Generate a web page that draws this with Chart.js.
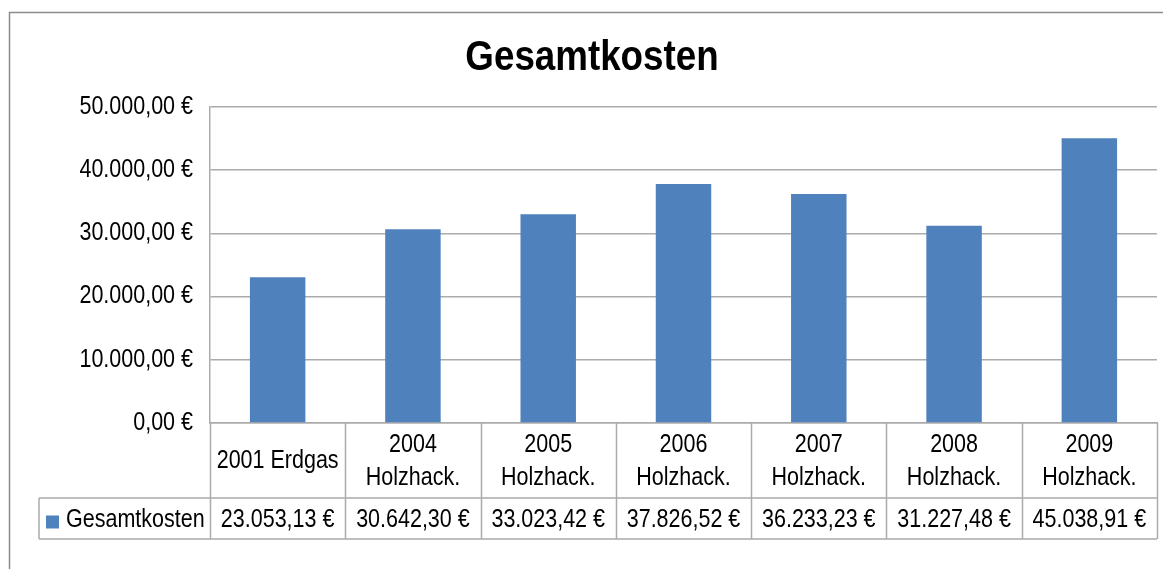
<!DOCTYPE html>
<html>
<head>
<meta charset="utf-8">
<title>Gesamtkosten</title>
<script src="https://cdn.jsdelivr.net/npm/chart.js@4/dist/chart.umd.min.js"></script>
<style>
  html, body { margin: 0; padding: 0; background: #fff; }
  canvas { display: block; }
</style>
</head>
<body>
<canvas id="kostenChart" width="1163" height="569"></canvas>
<script>
// Werte aus der Tabelle unter dem Diagramm
const categories = [
  ["2001 Erdgas"],
  ["2004", "Holzhack."],
  ["2005", "Holzhack."],
  ["2006", "Holzhack."],
  ["2007", "Holzhack."],
  ["2008", "Holzhack."],
  ["2009", "Holzhack."]
];
const gesamtkosten = [23053.13, 30642.30, 33023.42, 37826.52, 36233.23, 31227.48, 45038.91];
const seriesName = "Gesamtkosten";
const chartTitle = "Gesamtkosten";
const yTicks = [0, 10000, 20000, 30000, 40000, 50000];

const FONT = '"Liberation Sans", Arial, sans-serif';
const BAR_COLOR = "#4f81bd";
const LINE_COLOR = "#ababab";
const SQUEEZE = 0.86; // the original text is set in a narrow face

const euro = (v) =>
  v.toLocaleString("de-DE", { minimumFractionDigits: 2, maximumFractionDigits: 2 }) + " €";

// narrow text: draw normally but squeezed horizontally
function narrowText(ctx, text, x, y, align, sx) {
  ctx.save();
  ctx.translate(x, y);
  ctx.scale(sx, 1);
  ctx.textAlign = align;
  ctx.fillText(text, 0, 0);
  ctx.restore();
}

// frame, title, y tick labels and the data table below the x axis
const tablePlugin = {
  id: "dataTable",
  beforeDraw(chart) {
    const ctx = chart.ctx;
    ctx.save();
    ctx.strokeStyle = "#8c8c8c";
    ctx.lineWidth = 1.5;
    ctx.strokeRect(9.5, 12.5, 1170, 600);
    ctx.restore();
  },
  afterDraw(chart) {
    const ctx = chart.ctx;
    const x = chart.scales.x;
    const y = chart.scales.y;
    const area = chart.chartArea;
    const half = (x.getPixelForValue(1) - x.getPixelForValue(0)) / 2;
    const headTop = area.bottom;
    const headBottom = headTop + 75;
    const rowBottom = headBottom + 41;
    const legendLeft = 39;

    ctx.save();
    ctx.fillStyle = "#000";
    ctx.textBaseline = "middle";

    // title, centred in the frame
    ctx.font = "bold 42px " + FONT;
    narrowText(ctx, chartTitle, 592, 58, "center", 0.875);

    // y axis labels
    ctx.font = "25px " + FONT;
    y.ticks.forEach((t) => {
      narrowText(ctx, euro(t.value), 193, y.getPixelForValue(t.value), "right", SQUEEZE);
    });

    // table grid
    ctx.strokeStyle = LINE_COLOR;
    ctx.lineWidth = 1.5;
    ctx.beginPath();
    for (let i = 0; i <= categories.length; i++) {
      const px = Math.round(x.getPixelForValue(i) - half) + 0.5;
      ctx.moveTo(px, headTop);
      ctx.lineTo(px, rowBottom);
    }
    ctx.moveTo(legendLeft, headBottom);
    ctx.lineTo(area.right, headBottom);
    ctx.moveTo(legendLeft, rowBottom);
    ctx.lineTo(area.right, rowBottom);
    ctx.moveTo(legendLeft, headBottom);
    ctx.lineTo(legendLeft, rowBottom);
    ctx.stroke();

    // table text
    const headMid = (headTop + headBottom) / 2;
    const rowMid = (headBottom + rowBottom) / 2;
    categories.forEach((lines, i) => {
      const cx = x.getPixelForValue(i);
      lines.forEach((t, j) => {
        narrowText(ctx, t, cx, headMid + 1 + (j - (lines.length - 1) / 2) * 32.5, "center", SQUEEZE);
      });
      narrowText(ctx, euro(gesamtkosten[i]), cx, rowMid + 2, "center", SQUEEZE);
    });

    // legend key in the first cell
    ctx.fillStyle = BAR_COLOR;
    ctx.fillRect(legendLeft + 7, rowMid - 3, 13, 13);
    ctx.fillStyle = "#000";
    narrowText(ctx, seriesName, legendLeft + 27, rowMid + 2, "left", SQUEEZE);
    ctx.restore();
  }
};

new Chart(document.getElementById("kostenChart"), {
  type: "bar",
  data: {
    labels: categories,
    datasets: [{
      label: seriesName,
      data: gesamtkosten,
      backgroundColor: BAR_COLOR,
      categoryPercentage: 1,
      barPercentage: 0.41
    }]
  },
  options: {
    responsive: false,
    animation: false,
    devicePixelRatio: 1,
    layout: { padding: { left: 0, right: 6, top: 107, bottom: 146 } },
    plugins: {
      legend: { display: false },
      tooltip: { enabled: false },
      title: { display: false }
    },
    scales: {
      x: {
        ticks: { display: false },
        grid: { display: false },
        border: { color: LINE_COLOR, width: 1.5 },
        afterFit: (s) => { s.height = 0; }
      },
      y: {
        min: 0,
        max: 50000,
        afterBuildTicks: (s) => { s.ticks = yTicks.map((v) => ({ value: v })); },
        grid: { color: LINE_COLOR, lineWidth: 1.5, drawTicks: false },
        border: { color: LINE_COLOR, width: 1.5 },
        ticks: { display: false },
        afterFit: (s) => { s.width = 210; }
      }
    }
  },
  plugins: [tablePlugin]
});
</script>
</body>
</html>
